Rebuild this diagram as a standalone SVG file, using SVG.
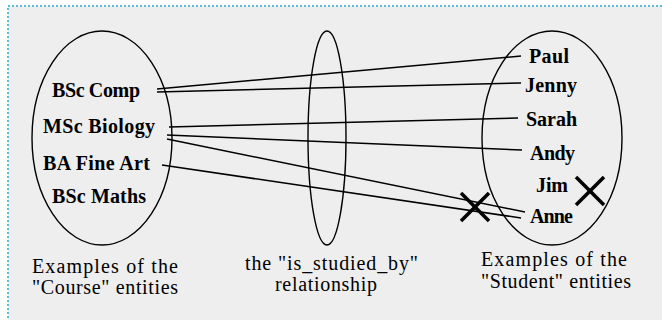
<svg xmlns="http://www.w3.org/2000/svg" width="662" height="320" viewBox="0 0 662 320">
<style>
.bg{fill:#eeeeee;stroke:#5bbcd6;stroke-width:2;stroke-dasharray:2 2}
.set{fill:none;stroke:#000;stroke-width:1.4}
.lab{font-family:"Liberation Serif",serif;font-weight:bold;font-size:20px;fill:#000}
.cap{font-family:"Liberation Serif",serif;font-size:20px;fill:#000}
.con line{stroke:#000;stroke-width:1.5}
.x line{stroke:#000;stroke-width:3.5}
</style>
<rect width="662" height="320" fill="#fff"/>
<rect class="bg" x="8" y="6" width="670" height="330"/>
<g id="course">
<ellipse class="set" cx="102" cy="138" rx="70" ry="107"/>
<text class="lab" x="52" y="97" textLength="88">BSc Comp</text>
<text class="lab" x="43" y="133" textLength="112">MSc Biology</text>
<text class="lab" x="43" y="170" textLength="107">BA Fine Art</text>
<text class="lab" x="52" y="203" textLength="94">BSc Maths</text>
<text class="cap" x="32" y="273" textLength="146">Examples of the</text>
<text class="cap" x="32" y="294" textLength="146">"Course" entities</text>
</g>
<g id="relationship">
<ellipse class="set" cx="327" cy="138" rx="19" ry="107"/>
<text class="cap" x="245" y="270" textLength="173">the "is_studied_by"</text>
<text class="cap" x="275" y="291" textLength="102">relationship</text>
</g>
<g id="student">
<ellipse class="set" cx="552" cy="138" rx="70" ry="107"/>
<text class="lab" x="529" y="63" textLength="40">Paul</text>
<text class="lab" x="525" y="92" textLength="52">Jenny</text>
<text class="lab" x="526" y="126" textLength="51">Sarah</text>
<text class="lab" x="530" y="160" textLength="45">Andy</text>
<text class="lab" x="536" y="192" textLength="32">Jim</text>
<text class="lab" x="530" y="223" textLength="43">Anne</text>
<text class="cap" x="481" y="266" textLength="146">Examples of the</text>
<text class="cap" x="481" y="288" textLength="150">"Student" entities</text>
</g>
<g id="connectors" class="con">
<line x1="157" y1="89" x2="521" y2="56"/>
<line x1="157" y1="92" x2="521" y2="83"/>
<line x1="169" y1="127" x2="518" y2="118"/>
<line x1="167" y1="135" x2="522" y2="150"/>
<line x1="167" y1="139" x2="525" y2="212"/>
<line x1="162" y1="165" x2="521" y2="218"/>
</g>
<g id="crosses" class="x">
<line x1="461" y1="193" x2="489" y2="221"/>
<line x1="489" y1="193" x2="461" y2="221"/>
<line x1="576" y1="177" x2="604" y2="205"/>
<line x1="604" y1="177" x2="576" y2="205"/>
</g>
</svg>
